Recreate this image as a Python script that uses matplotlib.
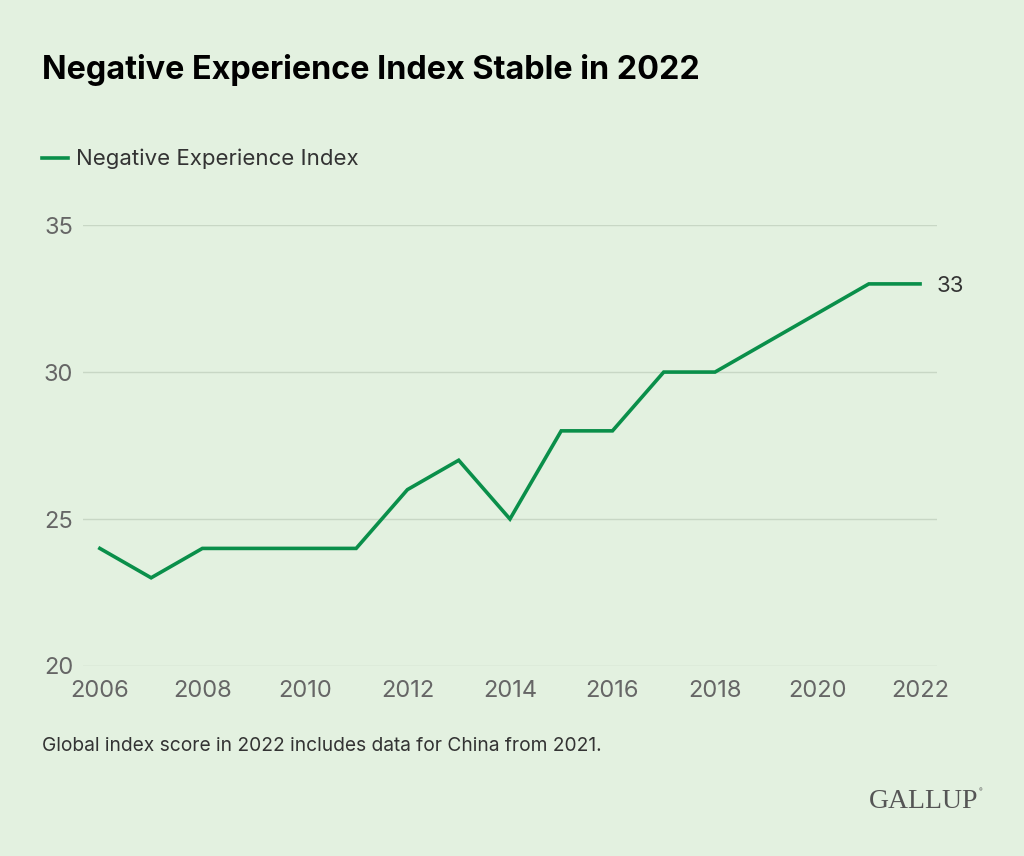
import matplotlib.pyplot as plt

years = [2006, 2007, 2008, 2009, 2010, 2011, 2012, 2013, 2014,
         2015, 2016, 2017, 2018, 2019, 2020, 2021, 2022]
index_values = [24, 23, 24, 24, 24, 24, 26, 27, 25,
                28, 28, 30, 30, 31, 32, 33, 33]
y_ticks = [20, 25, 30, 35]
x_ticks = [2006, 2008, 2010, 2012, 2014, 2016, 2018, 2020, 2022]

bg = '#E3F1E0'
green = '#0A8F4A'

plt.rcParams['font.family'] = ['Inter', 'DejaVu Sans']

fig = plt.figure(figsize=(10.24, 8.56), dpi=100)
fig.patch.set_facecolor(bg)
ax = fig.add_axes([0.081, 0.222, 0.834, 0.515])
ax.set_facecolor(bg)

ax.plot(years, index_values, color=green, linewidth=2.6, solid_joinstyle='miter')
ax.text(years[-1] + 0.33, index_values[-1] - 0.08, str(index_values[-1]),
        fontsize=16, color='#333333', va='center', ha='left')

ax.set_xlim(2005.67, 2022.33)
ax.set_ylim(20, 35)
ax.set_yticks(y_ticks)
ax.set_xticks(x_ticks)
ax.grid(axis='y', color='#C8D7C5', linewidth=1)
ax.set_axisbelow(True)
for s in ax.spines.values():
    s.set_visible(False)
ax.tick_params(axis='both', length=0, labelsize=17, labelcolor='#666666')
ax.tick_params(axis='y', pad=7)
ax.tick_params(axis='x', pad=10)

fig.text(0.041, 0.918, 'Negative Experience Index Stable in 2022',
         fontsize=23.3, fontweight='bold', color='#000000', va='center')

fig.lines.append(plt.Line2D([0.041, 0.066], [0.815, 0.815], color=green,
                            linewidth=2.6, transform=fig.transFigure))
fig.text(0.074, 0.815, 'Negative Experience Index', fontsize=16,
         color='#333333', va='center')

fig.text(0.041, 0.129, 'Global index score in 2022 includes data for China from 2021.',
         fontsize=13.8, color='#333333', va='center')
fig.text(0.955, 0.064, 'GALLUP', fontsize=20, family='Liberation Serif',
         color='#555555', va='center', ha='right')
fig.text(0.956, 0.076, '®', fontsize=4, color='#555555', va='center', ha='left')

fig.savefig('out.png', dpi=100, facecolor=bg)
